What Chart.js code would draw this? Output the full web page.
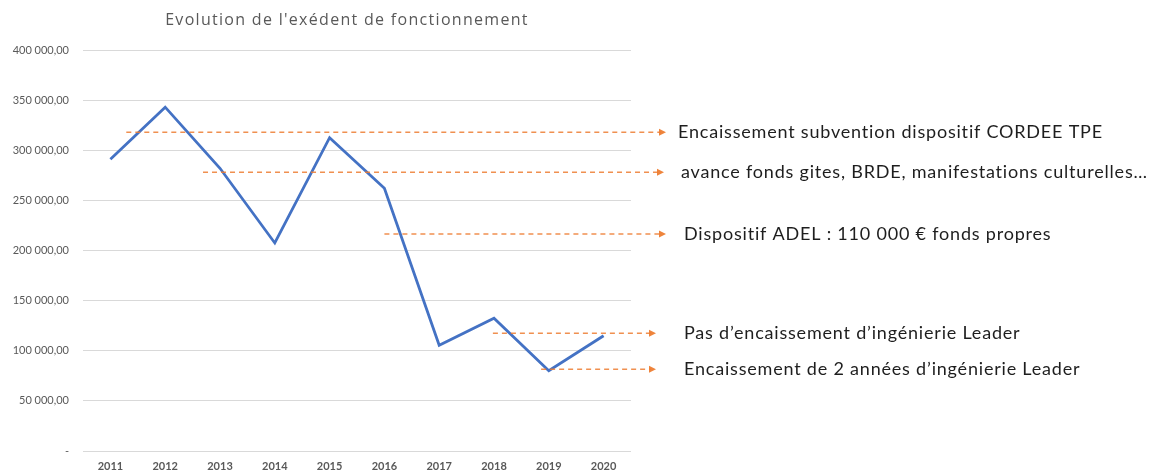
<!DOCTYPE html>
<html>
<head>
<meta charset="utf-8">
<script src="https://cdn.jsdelivr.net/npm/chart.js@4"></script>
<style>
  html, body { margin: 0; padding: 0; background: #fff; }
  #wrap { width: 1154px; height: 472px; position: relative; }
</style>
</head>
<body>
<div id="wrap"><canvas id="c"></canvas></div>
<script>
const years = ["2011", "2012", "2013", "2014", "2015", "2016", "2017", "2018", "2019", "2020"];
const excedent = [291000, 343000, 282000, 207500, 312500, 262000, 105500, 132500, 80000, 115000];
const yTicks = [0, 50000, 100000, 150000, 200000, 250000, 300000, 350000, 400000];

// notes: text, value where the dashed arrow sits, category position where it starts
const noteTexts = [
  "Encaissement subvention dispositif CORDEE TPE",
  "avance fonds gites, BRDE, manifestations culturelles\u2026",
  "Dispositif ADEL : 110 000 \u20ac fonds propres",
  "Pas d\u2019encaissement d\u2019ing\u00e9nierie Leader",
  "Encaissement de 2 ann\u00e9es d\u2019ing\u00e9nierie Leader",
];
const noteValues = [318000, 278000, 216500, 117500, 81500];
const noteStarts = [0.29, 1.69, 5.0, 6.98, 7.86];

const arrowEnd = [666, 664, 666, 656, 656];
const textX = [678, 681, 684, 684, 684];

const fmt = v => v === 0 ? "-" :
  v.toLocaleString("fr-FR", { minimumFractionDigits: 2 }).replace(/\u202f|\u00a0/g, " ");

const notesPlugin = {
  id: "notes",
  afterDatasetsDraw(chart) {
    const { ctx, scales: { x, y } } = chart;
    ctx.save();
    noteTexts.forEach((t, i) => {
      const yy = y.getPixelForValue(noteValues[i]);
      const x0 = x.getPixelForValue(noteStarts[i]);
      const x1 = arrowEnd[i];
      ctx.strokeStyle = "rgba(237,125,49,0.85)";
      ctx.lineWidth = 1.6;
      ctx.setLineDash([5, 4]);
      ctx.beginPath();
      ctx.moveTo(x0, yy);
      ctx.lineTo(x1 - 5, yy);
      ctx.stroke();
      ctx.setLineDash([]);
      ctx.fillStyle = "rgba(237,125,49,0.95)";
      ctx.beginPath();
      ctx.moveTo(x1, yy);
      ctx.lineTo(x1 - 7, yy - 3.5);
      ctx.lineTo(x1 - 7, yy + 3.5);
      ctx.closePath();
      ctx.fill();
      ctx.fillStyle = "#1e1e1e";
      ctx.font = "18px Lato";
      ctx.letterSpacing = "0.8px";
      ctx.textBaseline = "middle";
      ctx.textAlign = "left";
      ctx.fillText(t, textX[i], yy);
    });
    // title
    ctx.fillStyle = "#595959";
    ctx.font = "16px 'Open Sans'";
    ctx.letterSpacing = "1.3px";
    ctx.textAlign = "center";
    ctx.textBaseline = "middle";
    ctx.fillText("Evolution de l'ex\u00e9dent de fonctionnement", 347, 20);
    ctx.restore();
  }
};

new Chart(document.getElementById("c"), {
  type: "line",
  data: {
    labels: years,
    datasets: [{
      label: "Excédent",
      data: excedent,
      borderColor: "#4472C4",
      borderWidth: 2.8,
      pointRadius: 0,
      tension: 0,
    }],
  },
  options: {
    responsive: true,
    maintainAspectRatio: false,
    animation: false,
    layout: { padding: { top: 50, right: 523, bottom: 0, left: 0 } },
    plugins: {
      legend: { display: false },
      title: { display: false },
      tooltip: { enabled: false },
    },
    scales: {
      x: {
        offset: true,
        grid: { display: false, drawTicks: false },
        border: { display: false },
        ticks: { color: "#595959", font: { family: "Lato", size: 11, weight: "bold" }, padding: 9, maxRotation: 0 },
        afterFit: s => { s.height = 21; },
      },
      y: {
        min: 0,
        max: 400000,
        afterBuildTicks: s => { s.ticks = yTicks.map(v => ({ value: v })); },
        grid: { color: "#d9d9d9", drawTicks: false },
        border: { display: false },
        ticks: { color: "#595959", font: { family: "Lato", size: 11 }, padding: 14, callback: v => fmt(v) },
        afterFit: s => { s.width = 83; },
      },
    },
  },
  plugins: [notesPlugin],
});
</script>
</body>
</html>
